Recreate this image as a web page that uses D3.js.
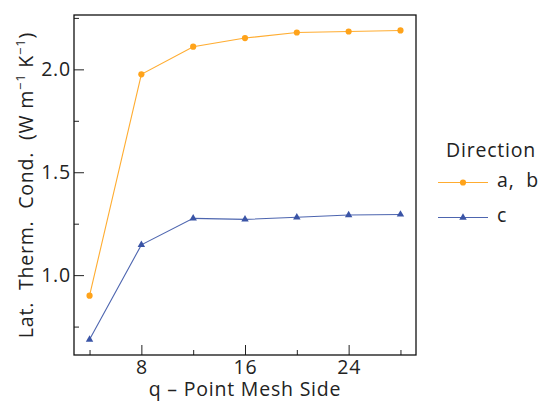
<!DOCTYPE html>
<html>
  <head>
    <meta http-equiv="Content-Type" content="text/html;charset=utf-8" />
    <title>Lattice thermal conductivity vs q-point mesh</title>
    <script type="text/javascript" src="https://d3js.org/d3.v7.min.js"></script>
    <style>
      body { margin: 0; background: #fff; }
      text { font-family: "Open Sans", "DejaVu Sans", sans-serif; fill: #222; letter-spacing: 0.8px; }
    </style>
  </head>
  <body>
    <div id="chart"></div>

    <script type="text/javascript">
      // q-point mesh side
      var meshSide = [4, 8, 12, 16, 20, 24, 28];
      // lattice thermal conductivity, W m^-1 K^-1
      var kappaAB = [0.90, 1.976, 2.11, 2.152, 2.179, 2.184, 2.189];
      var kappaC = [0.687, 1.147, 1.276, 1.271, 1.281, 1.292, 1.295];

      var xMajor = [8, 16, 24];
      var xMinor = [4, 12, 20, 28];
      var yMajor = [1.0, 1.5, 2.0];
      var yMinor = [0.75, 1.25, 1.75, 2.25];

      var seriesNames = ["a,  b", "c"];

      var W = 548, H = 402;
      var margin = { left: 74, right: 132, top: 15, bottom: 47 };
      var width = W - margin.left - margin.right;
      var height = H - margin.top - margin.bottom;
      var fs = "19.5px";

      var svg = d3
        .select("#chart")
        .append("svg")
        .attr("width", W)
        .attr("height", H);

      // matplotlib style 5% margins
      var xExt = d3.extent(meshSide);
      var xPad = (xExt[1] - xExt[0]) * 0.05;
      var allY = kappaAB.concat(kappaC);
      var yExt = d3.extent(allY);
      var yPad = (yExt[1] - yExt[0]) * 0.05;

      var x = d3
        .scaleLinear()
        .domain([xExt[0] - xPad, xExt[1] + xPad])
        .range([0, width]);
      var y = d3
        .scaleLinear()
        .domain([yExt[0] - yPad, yExt[1] + yPad])
        .range([height, 0]);

      var g = svg
        .append("g")
        .attr("transform", "translate(" + margin.left + "," + margin.top + ")");

      // inward ticks
      function styleAxis(sel) {
        sel.select(".domain").remove();
        sel.selectAll(".tick line").attr("stroke", "#222").attr("stroke-width", 1);
        sel.selectAll(".tick text").style("font-size", fs).attr("fill", "#222");
      }

      g.append("g")
        .attr("transform", "translate(0," + height + ")")
        .call(d3.axisBottom(x).tickValues(xMajor).tickSizeInner(-10).tickPadding(5).tickFormat(d3.format("d")))
        .call(styleAxis);
      g.append("g")
        .attr("transform", "translate(0," + height + ")")
        .call(d3.axisBottom(x).tickValues(xMinor).tickSizeInner(-5).tickFormat(""))
        .call(styleAxis);

      g.append("g")
        .call(d3.axisLeft(y).tickValues(yMajor).tickSizeInner(-10).tickPadding(3).tickFormat(d3.format(".1f")))
        .call(styleAxis);
      g.append("g")
        .call(d3.axisLeft(y).tickValues(yMinor).tickSizeInner(-5).tickFormat(""))
        .call(styleAxis);

      // frame
      g.append("rect")
        .attr("width", width)
        .attr("height", height)
        .attr("fill", "none")
        .attr("stroke", "#111")
        .attr("stroke-width", 1.3);

      var line = d3
        .line()
        .x(function(d) { return x(d[0]); })
        .y(function(d) { return y(d[1]); });

      var abPts = meshSide.map(function(m, i) { return [m, kappaAB[i]]; });
      var cPts = meshSide.map(function(m, i) { return [m, kappaC[i]]; });

      var orange = "#ffa31a";
      var blue = "#3a54a6";
      var tri = d3.symbol().type(d3.symbolTriangle).size(24);

      g.append("path")
        .datum(abPts)
        .attr("d", line)
        .attr("fill", "none")
        .attr("stroke", orange)
        .attr("stroke-opacity", 0.9)
        .attr("stroke-width", 1.1);
      g.selectAll(".pt-ab")
        .data(abPts)
        .enter()
        .append("circle")
        .attr("class", "pt-ab")
        .attr("cx", function(d) { return x(d[0]); })
        .attr("cy", function(d) { return y(d[1]); })
        .attr("r", 3.1)
        .attr("fill", orange);

      g.append("path")
        .datum(cPts)
        .attr("d", line)
        .attr("fill", "none")
        .attr("stroke", blue)
        .attr("stroke-opacity", 0.9)
        .attr("stroke-width", 1.1);
      g.selectAll(".pt-c")
        .data(cPts)
        .enter()
        .append("path")
        .attr("class", "pt-c")
        .attr("d", tri)
        .attr("transform", function(d) { return "translate(" + x(d[0]) + "," + y(d[1]) + ")"; })
        .attr("fill", blue);

      // axis labels
      svg.append("text")
        .attr("x", margin.left + width / 2)
        .attr("y", 396)
        .attr("text-anchor", "middle")
        .style("font-size", fs)
        .style("white-space", "pre")
        .text("q \u2013 Point Mesh Side");

      var yl = svg.append("text")
        .attr("transform", "translate(33," + (margin.top + height / 2) + ") rotate(-90)")
        .attr("text-anchor", "middle")
        .style("font-size", fs)
        .style("white-space", "pre");
      yl.append("tspan").text("Lat.  Therm.  Cond.  (W m");
      yl.append("tspan").attr("dy", -8).style("font-size", "13px").text("\u22121");
      yl.append("tspan").attr("dy", 8).text(" K");
      yl.append("tspan").attr("dy", -8).style("font-size", "13px").text("\u22121");
      yl.append("tspan").attr("dy", 8).text(")");

      // legend
      var lg = svg.append("g").attr("transform", "translate(438,0)");
      lg.append("text")
        .attr("x", 8)
        .attr("y", 157)
        .style("font-size", fs)
        .text("Direction");

      var legendRows = [
        { name: seriesNames[0], color: orange, y: 182.5, mark: "circle" },
        { name: seriesNames[1], color: blue, y: 217.5, mark: "tri" }
      ];
      legendRows.forEach(function(r) {
        lg.append("line")
          .attr("x1", 0).attr("x2", 50)
          .attr("y1", r.y).attr("y2", r.y)
          .attr("stroke", r.color)
          .attr("stroke-opacity", 0.9)
          .attr("stroke-width", 1.1);
        if (r.mark === "circle") {
          lg.append("circle").attr("cx", 25).attr("cy", r.y).attr("r", 3.1).attr("fill", r.color);
        } else {
          lg.append("path").attr("d", tri).attr("transform", "translate(25," + r.y + ")").attr("fill", r.color);
        }
        lg.append("text")
          .attr("x", 59)
          .attr("y", r.y + 4.5)
          .style("font-size", fs)
          .style("white-space", "pre")
          .text(r.name);
      });
    </script>
  </body>
</html>
